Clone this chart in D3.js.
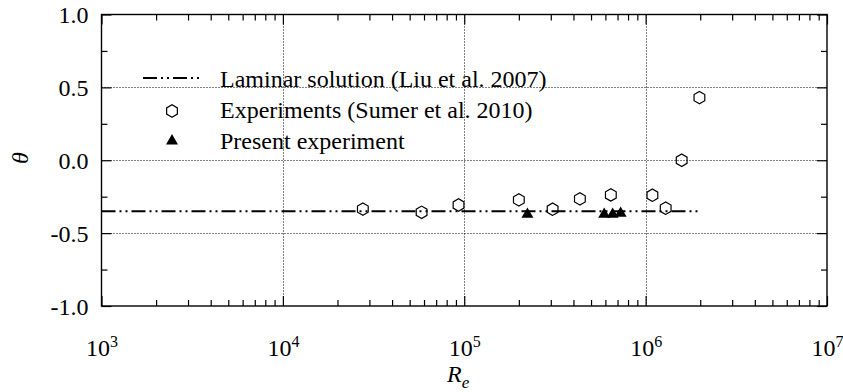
<!DOCTYPE html>
<html>
<head>
<meta charset="utf-8">
<script src="https://cdn.jsdelivr.net/npm/d3@7"></script>
<style>
  body { margin: 0; background: #fff; }
  svg text { font-family: "Liberation Serif", "Times New Roman", Times, serif; fill: #000; }
</style>
</head>
<body>
<svg id="chart" width="843" height="392"></svg>
<script>
// ---- data ----
const xDomain = [1e3, 1e7];
const yDomain = [-1, 1];
const yTicks = [-1, -0.5, 0, 0.5, 1];
const yMinorTicks = [-0.75, -0.25, 0.25, 0.75];
const xExponents = [3, 4, 5, 6, 7];
const gridExponents = [4, 5, 6];
const gridTheta = [-0.5, 0, 0.5];

const laminarRe = [1e3, 2e6];
const laminarTheta = [-0.35, -0.35];

const sumerRe = [2.76e4, 5.82e4, 9.3e4, 2.0e5, 3.07e5, 4.34e5, 6.43e5, 1.09e6, 1.29e6, 1.58e6, 1.98e6];
const sumerTheta = [-0.335, -0.357, -0.307, -0.272, -0.336, -0.265, -0.238, -0.24, -0.329, 0.0, 0.43];

const presentRe = [2.23e5, 5.91e5, 6.58e5, 7.28e5];
const presentTheta = [-0.371, -0.371, -0.371, -0.364];

const legendLabels = [
  "Laminar solution (Liu et al. 2007)",
  "Experiments (Sumer et al. 2010)",
  "Present experiment"
];

// ---- layout ----
const serif = '"Liberation Serif", "Times New Roman", Times, serif';
const svg = d3.select("#chart");
const plotLeft = 101.5, plotRight = 827, plotTop = 14.5, plotBottom = 306;
const x = d3.scaleLog().domain(xDomain).range([plotLeft, plotRight]);
const y = d3.scaleLinear().domain(yDomain).range([plotBottom, plotTop]);

const majorX = xExponents.map(e => Math.pow(10, e));
const minorX = [];
for (let e = xExponents[0]; e < xExponents[xExponents.length - 1]; e++) {
  for (let k = 2; k <= 9; k++) minorX.push(k * Math.pow(10, e));
}

// dotted grid
const grid = svg.append("g").attr("stroke", "#000").attr("stroke-width", 1)
  .attr("stroke-dasharray", "1,2");
grid.selectAll("line.gx").data(gridExponents.map(e => Math.pow(10, e))).join("line")
  .attr("class", "gx")
  .attr("x1", d => Math.round(x(d)) + 0.5).attr("x2", d => Math.round(x(d)) + 0.5)
  .attr("y1", plotTop).attr("y2", plotBottom);
grid.selectAll("line.gy").data(gridTheta).join("line")
  .attr("class", "gy")
  .attr("y1", d => Math.round(y(d)) + 0.5).attr("y2", d => Math.round(y(d)) + 0.5)
  .attr("x1", plotLeft).attr("x2", plotRight);

// axes (ticks point inward on all four sides)
function styleAxis(g) {
  g.select(".domain").remove();
  g.attr("font-family", null).attr("font-size", null);
  g.selectAll(".tick line").attr("stroke", "#000").attr("stroke-width", 1.2);
}
svg.append("g").attr("transform", `translate(0,${plotBottom})`)
  .call(d3.axisBottom(x).tickValues(minorX).tickSize(-6).tickFormat(""))
  .call(styleAxis);
svg.append("g").attr("transform", `translate(0,${plotTop})`)
  .call(d3.axisTop(x).tickValues(minorX).tickSize(-6).tickFormat(""))
  .call(styleAxis);
svg.append("g").attr("transform", `translate(0,${plotTop})`)
  .call(d3.axisTop(x).tickValues(majorX).tickSize(-10).tickFormat(""))
  .call(styleAxis);

const xAxis = svg.append("g").attr("transform", `translate(0,${plotBottom})`)
  .call(d3.axisBottom(x).tickValues(majorX).tickSize(-10).tickFormat(""))
  .call(styleAxis);
xAxis.selectAll(".tick text").remove();
xAxis.selectAll(".tick").each(function (d) {
  const t = d3.select(this).append("text")
    .attr("y", 50).attr("text-anchor", "middle")
    .style("font-family", serif).style("font-size", "24px");
  t.append("tspan").text("10");
  t.append("tspan").style("font-size", "16px").attr("dy", -9).text(Math.round(Math.log10(d)));
});

svg.append("g").attr("transform", `translate(${plotLeft},0)`)
  .call(d3.axisLeft(y).tickValues(yTicks).tickSize(-10).tickPadding(13)
    .tickFormat(d => d.toFixed(1)))
  .call(styleAxis)
  .call(g => g.selectAll(".tick text")
    .style("font-family", serif).style("font-size", "24px").attr("dy", "0.34em"));
svg.append("g").attr("transform", `translate(${plotLeft},0)`)
  .call(d3.axisLeft(y).tickValues(yMinorTicks).tickSize(-6).tickFormat(""))
  .call(styleAxis);
svg.append("g").attr("transform", `translate(${plotRight},0)`)
  .call(d3.axisRight(y).tickValues(yTicks).tickSize(-10).tickFormat(""))
  .call(styleAxis);
svg.append("g").attr("transform", `translate(${plotRight},0)`)
  .call(d3.axisRight(y).tickValues(yMinorTicks).tickSize(-6).tickFormat(""))
  .call(styleAxis);

// frame
svg.append("rect").attr("x", plotLeft).attr("y", plotTop)
  .attr("width", plotRight - plotLeft).attr("height", plotBottom - plotTop)
  .attr("fill", "none").attr("stroke", "#000").attr("stroke-width", 1.4);

// axis titles
const xt = svg.append("text").attr("x", 447).attr("y", 382)
  .style("font-family", serif).style("font-size", "24px").style("font-style", "italic");
xt.append("tspan").text("R");
xt.append("tspan").style("font-size", "17px").attr("dy", 6).text("e");

svg.append("text").attr("transform", "translate(28,158) rotate(-90)")
  .attr("text-anchor", "middle")
  .style("font-family", serif).style("font-size", "24px").style("font-style", "italic")
  .text("θ");

// laminar solution
const dashPattern = "14,4,2,4,2,4";
const line = d3.line().x(d => x(d[0])).y(d => y(d[1]));
svg.append("path")
  .datum(laminarRe.map((r, i) => [r, laminarTheta[i]]))
  .attr("d", line).attr("fill", "none").attr("stroke", "#000")
  .attr("stroke-width", 2).attr("stroke-dasharray", dashPattern);

// markers
const hexPath = r => {
  const pts = d3.range(6).map(i => {
    const a = Math.PI / 2 + i * Math.PI / 3;
    return [r * Math.cos(a), r * Math.sin(a)];
  });
  return "M" + pts.map(p => p.join(",")).join("L") + "Z";
};
const triangle = d3.symbol().type(d3.symbolTriangle).size(62)();

svg.append("g").selectAll("path")
  .data(sumerRe.map((r, i) => [r, sumerTheta[i]]))
  .join("path")
  .attr("transform", d => `translate(${x(d[0])},${y(d[1])})`)
  .attr("d", hexPath(6.2)).attr("fill", "none").attr("stroke", "#000").attr("stroke-width", 1.2);

svg.append("g").selectAll("path")
  .data(presentRe.map((r, i) => [r, presentTheta[i]]))
  .join("path")
  .attr("transform", d => `translate(${x(d[0])},${y(d[1])})`)
  .attr("d", triangle).attr("fill", "#000");

// legend
const legend = svg.append("g");
const rowBase = [87, 118, 149];
legend.append("line").attr("x1", 143).attr("x2", 201)
  .attr("y1", rowBase[0] - 9).attr("y2", rowBase[0] - 9)
  .attr("stroke", "#000").attr("stroke-width", 2).attr("stroke-dasharray", dashPattern);
legend.append("path").attr("transform", `translate(172,${rowBase[1] - 7})`)
  .attr("d", hexPath(6.2)).attr("fill", "none").attr("stroke", "#000").attr("stroke-width", 1.2);
legend.append("path").attr("transform", `translate(172,${rowBase[2] - 8})`)
  .attr("d", triangle).attr("fill", "#000");
legend.selectAll("text").data(legendLabels).join("text")
  .attr("x", 220).attr("y", (d, i) => rowBase[i])
  .style("font-family", serif).style("font-size", "24px").text(d => d);
</script>
</body>
</html>
